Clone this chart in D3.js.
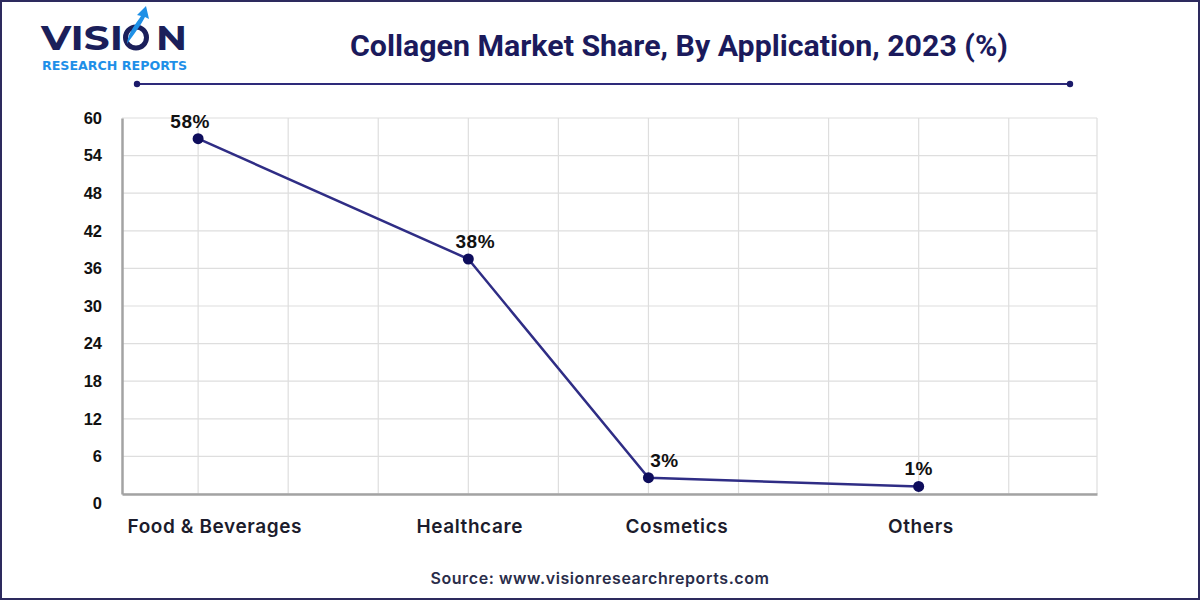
<!DOCTYPE html>
<html>
<head>
<meta charset="utf-8">
<script src="https://cdn.jsdelivr.net/npm/d3@7"></script>
<style>
  body { margin: 0; background: #fff; }
  svg { display: block; }
</style>
</head>
<body>
<div id="chart"></div>
<script>
// chart data
var categories = ["Food & Beverages", "Healthcare", "Cosmetics", "Others"];
var xPos = [0, 3, 5, 8];                 // category position on the x grid
var shareValues = [56.7, 37.5, 2.6, 1.2]; // plotted height
var shareLabels = ["58%", "38%", "3%", "1%"];
var labelNudge = [-8, 7, 16, 0];
var tickPos = [0.18, 3.01, 5.31, 8.02];   // where category names sit
var yTicks = [0, 6, 12, 18, 24, 30, 36, 42, 48, 54, 60];
var xGrid = [0, 1, 2, 3, 4, 5, 6, 7, 8, 9];

var svgWidth = 1200;
var svgHeight = 600;

var margin = {
  top: 118,
  right: 103,
  bottom: 104,
  left: 122
};

var width = svgWidth - margin.left - margin.right;
var height = svgHeight - margin.top - margin.bottom;

var svg = d3.select("#chart")
  .append("svg")
  .attr("width", svgWidth)
  .attr("height", svgHeight);

// frame
svg.append("rect")
  .attr("x", 1)
  .attr("y", 1)
  .attr("width", svgWidth - 2)
  .attr("height", svgHeight - 2)
  .attr("fill", "#fff")
  .attr("stroke", "#2d2a5e")
  .attr("stroke-width", 2);

// logo
var logo = svg.append("g");
logo.append("text")
  .attr("x", 41)
  .attr("y", 50)
  .attr("font-family", "Montserrat, 'DejaVu Sans', sans-serif")
  .attr("font-weight", 700)
  .attr("font-size", 35)
  .attr("fill", "#1b1f5a")
  .attr("textLength", 82)
  .attr("lengthAdjust", "spacingAndGlyphs")
  .text("VISI");
logo.append("circle")
  .attr("cx", 136)
  .attr("cy", 37.5)
  .attr("r", 10.5)
  .attr("fill", "none")
  .attr("stroke", "#1b1f5a")
  .attr("stroke-width", 5);
logo.append("path")
  .attr("d", "M127,44 C128,32 136,24 141,16 L137,15 L146,6 L149,19 L145,17 C141,25 134,34 127,44 Z")
  .attr("fill", "#1e90e6");
logo.append("text")
  .attr("x", 156)
  .attr("y", 50)
  .attr("font-family", "Montserrat, 'DejaVu Sans', sans-serif")
  .attr("font-weight", 700)
  .attr("font-size", 35)
  .attr("fill", "#1b1f5a")
  .attr("textLength", 31)
  .attr("lengthAdjust", "spacingAndGlyphs")
  .text("N");
logo.append("text")
  .attr("x", 42)
  .attr("y", 70)
  .attr("font-family", "'DejaVu Sans', sans-serif")
  .attr("font-weight", 700)
  .attr("font-size", 12)
  .attr("fill", "#1e8fe8")
  .attr("textLength", 145)
  .attr("lengthAdjust", "spacingAndGlyphs")
  .text("RESEARCH REPORTS");

// title
svg.append("text")
  .attr("x", 679)
  .attr("y", 56)
  .attr("text-anchor", "middle")
  .attr("font-family", "Roboto, sans-serif")
  .attr("font-weight", 700)
  .attr("font-size", 30)
  .attr("fill", "#1b1a5c")
  .attr("textLength", 658)
  .attr("lengthAdjust", "spacingAndGlyphs")
  .text("Collagen Market Share, By Application, 2023 (%)");

// title rule with end dots
svg.append("line")
  .attr("x1", 137)
  .attr("x2", 1070)
  .attr("y1", 84)
  .attr("y2", 84)
  .attr("stroke", "#2e2a7a")
  .attr("stroke-width", 2);
svg.selectAll(".ruleDot")
  .data([137, 1070])
  .enter()
  .append("circle")
  .attr("cx", d => d)
  .attr("cy", 84)
  .attr("r", 3.2)
  .attr("fill", "#1b1a6a");

var chartGroup = svg.append("g")
  .attr("transform", `translate(${margin.left}, ${margin.top})`);

// scales
var xLinearScale = d3.scaleLinear()
  .domain([-0.845, 9.98])
  .range([0, width]);

var yLinearScale = d3.scaleLinear()
  .domain([0, 60])
  .range([height - 2, 0]);

// grid
chartGroup.append("g")
  .selectAll("line")
  .data(yTicks)
  .enter()
  .append("line")
  .attr("x1", 0)
  .attr("x2", width)
  .attr("y1", d => yLinearScale(d))
  .attr("y2", d => yLinearScale(d))
  .attr("stroke", "#dedede")
  .attr("stroke-width", 1.2);

chartGroup.append("g")
  .selectAll("line")
  .data(xGrid)
  .enter()
  .append("line")
  .attr("x1", d => xLinearScale(d))
  .attr("x2", d => xLinearScale(d))
  .attr("y1", 0)
  .attr("y2", yLinearScale(0))
  .attr("stroke", "#dedede")
  .attr("stroke-width", 1.2);

chartGroup.append("line")
  .attr("x1", width)
  .attr("x2", width)
  .attr("y1", 0)
  .attr("y2", yLinearScale(0))
  .attr("stroke", "#dedede")
  .attr("stroke-width", 1.2);

// y axis
var leftAxis = d3.axisLeft(yLinearScale)
  .tickValues(yTicks)
  .tickSize(0)
  .tickPadding(20);

var yAxis = chartGroup.append("g")
  .call(leftAxis);
yAxis.select(".domain")
  .attr("stroke", "#a3a3a3")
  .attr("stroke-width", 2.5);
yAxis.selectAll("text")
  .attr("font-family", "'Liberation Sans', Arial, sans-serif")
  .attr("font-weight", 700)
  .attr("font-size", 16.5)
  .attr("fill", "#111");
yAxis.selectAll(".tick")
  .filter(d => d === 0)
  .select("text")
  .attr("dy", "0.85em");

// x axis
var bottomAxis = d3.axisBottom(xLinearScale)
  .tickValues(tickPos)
  .tickSize(0)
  .tickPadding(26)
  .tickFormat((d, i) => categories[i]);

var xAxis = chartGroup.append("g")
  .attr("transform", `translate(0, ${yLinearScale(0)})`)
  .call(bottomAxis);
xAxis.select(".domain")
  .attr("stroke", "#a3a3a3")
  .attr("stroke-width", 2.5);
xAxis.selectAll("text")
  .attr("font-family", "Inter, 'Open Sans', sans-serif")
  .attr("font-weight", 600)
  .attr("font-size", 19)
  .attr("letter-spacing", 0.6)
  .attr("fill", "#1c1c2c");

// line
var lineData = categories.map((c, i) => ({ x: xPos[i], y: shareValues[i], label: shareLabels[i], nudge: labelNudge[i] }));

var shareLine = d3.line()
  .x(d => xLinearScale(d.x))
  .y(d => yLinearScale(d.y));

chartGroup.append("path")
  .datum(lineData)
  .attr("d", shareLine)
  .attr("fill", "none")
  .attr("stroke", "#2f2d85")
  .attr("stroke-width", 2.5);

chartGroup.selectAll(".dot")
  .data(lineData)
  .enter()
  .append("circle")
  .attr("cx", d => xLinearScale(d.x))
  .attr("cy", d => yLinearScale(d.y))
  .attr("r", 5.5)
  .attr("fill", "#0e0d5c");

chartGroup.selectAll(".valueLabel")
  .data(lineData)
  .enter()
  .append("text")
  .attr("x", d => xLinearScale(d.x) + d.nudge)
  .attr("y", d => yLinearScale(d.y) - 11)
  .attr("text-anchor", "middle")
  .attr("font-family", "'Liberation Sans', Arial, sans-serif")
  .attr("font-weight", 700)
  .attr("font-size", 19)
  .attr("letter-spacing", 0.5)
  .attr("fill", "#111")
  .text(d => d.label);

// source
svg.append("text")
  .attr("x", 600)
  .attr("y", 584)
  .attr("text-anchor", "middle")
  .attr("font-family", "Inter, 'Open Sans', sans-serif")
  .attr("font-weight", 600)
  .attr("font-size", 16)
  .attr("letter-spacing", 0.6)
  .attr("fill", "#2a2d4a")
  .text("Source: www.visionresearchreports.com");
</script>
</body>
</html>
